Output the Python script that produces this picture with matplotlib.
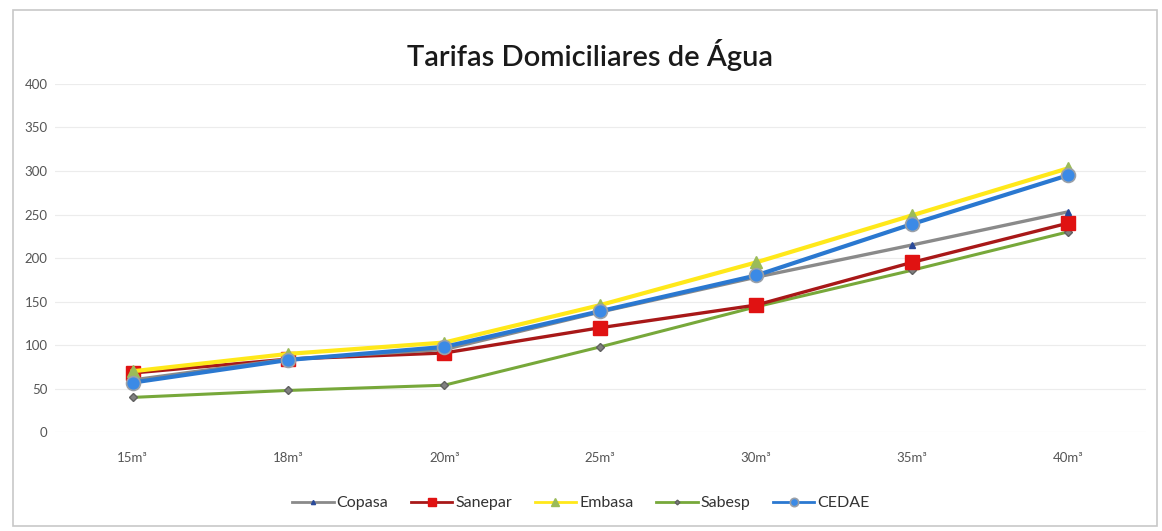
import matplotlib
matplotlib.use("Agg")
import matplotlib.pyplot as plt
from matplotlib.patches import Rectangle

categories = ["15m³", "18m³", "20m³", "25m³", "30m³", "35m³", "40m³"]
copasa = [60, 84, 95, 138, 178, 215, 253]
sanepar = [68, 84, 91, 120, 146, 195, 240]
embasa = [70, 90, 103, 146, 195, 249, 303]
sabesp = [40, 48, 54, 98, 144, 186, 230]
cedae = [57, 83, 98, 139, 180, 239, 295]
y_ticks = [0, 50, 100, 150, 200, 250, 300, 350, 400]

plt.rcParams['font.family'] = ['Lato', 'DejaVu Sans']

fig = plt.figure(figsize=(11.62, 5.31), dpi=100)
ax = fig.add_axes([0.047, 0.186, 0.939, 0.656])

x = list(range(len(categories)))

ax.plot(x, sabesp, color='#77a83a', lw=2.2, marker='D', ms=4,
        mfc='#808080', mec='#606060', label='Sabesp', zorder=3)
ax.plot(x, sanepar, color='#a81818', lw=2.4, marker='s', ms=10,
        mfc='#e01212', mec='#e01212', label='Sanepar', zorder=4)
ax.plot(x, copasa, color='#8a8a8a', lw=2.4, marker='^', ms=5,
        mfc='#2a4a9a', mec='#2a4a9a', label='Copasa', zorder=5)
ax.plot(x, embasa, color='#ffe81a', lw=3.0, marker='^', ms=9,
        mfc='#9bbb59', mec='#9bbb59', label='Embasa', zorder=6)
ax.plot(x, cedae, color='#2a78d0', lw=3.0, marker='o', ms=10,
        mfc='#3b8ae6', mec='#9aa0a8', mew=1.2, label='CEDAE', zorder=7)

ax.set_xlim(-0.5, len(categories) - 0.5)
ax.set_ylim(0, 400)
ax.set_yticks(y_ticks)
ax.set_xticks(x)
ax.set_xticklabels(categories)
ax.tick_params(axis='both', length=0, colors='#555555', labelsize=9.5)
ax.tick_params(axis='x', pad=14)
ax.tick_params(axis='y', pad=5)
ax.grid(axis='y', color='#ececec', lw=0.8)
for s in ax.spines.values():
    s.set_visible(False)

fig.text(0.508, 0.897, "Tarifas Domiciliares de Água", ha='center', va='center',
         fontsize=21, color='#1a1a1a', fontweight='semibold')

handles, labels = ax.get_legend_handles_labels()
order = ['Copasa', 'Sanepar', 'Embasa', 'Sabesp', 'CEDAE']
hmap = dict(zip(labels, handles))
leg = fig.legend([hmap[o] for o in order], order, loc='center', bbox_to_anchor=(0.5, 0.052),
                 ncol=5, frameon=False, fontsize=11.5, handlelength=2.6,
                 columnspacing=1.4, handletextpad=0.2, markerscale=0.6)
for t in leg.get_texts():
    t.set_color('#333333')
for ln in leg.get_lines():
    ln.set_linewidth(2.0)

fig.patches.append(Rectangle((0.011, 0.01), 0.985, 0.972, transform=fig.transFigure,
                             fill=False, ec='#c8c8c8', lw=1.2))

fig.savefig("out.png", dpi=100, facecolor='white')
